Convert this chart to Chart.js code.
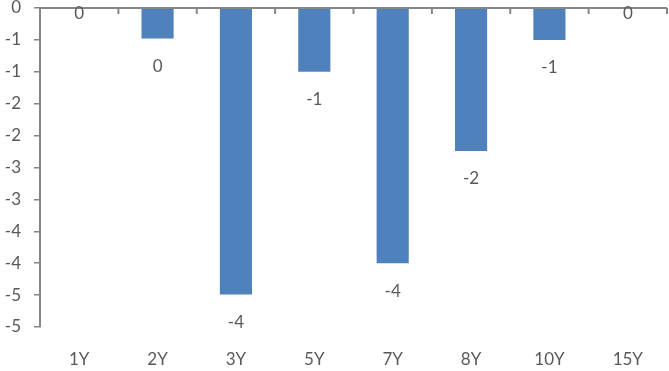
<!DOCTYPE html>
<html>
<head>
<meta charset="utf-8">
<script src="https://cdn.jsdelivr.net/npm/chart.js@4"></script>
<style>
  html, body { margin: 0; padding: 0; background: #ffffff; }
  #wrap { width: 669px; height: 371px; }
</style>
</head>
<body>
<div id="wrap"><canvas id="c" width="669" height="371"></canvas></div>
<script>
// Tenor buckets and their values
const categories = ['1Y', '2Y', '3Y', '5Y', '7Y', '8Y', '10Y', '15Y'];
const values = [0, -0.48, -4.49, -1.0, -4.0, -2.24, -0.5, 0];
const yTicks = [0, -0.5, -1, -1.5, -2, -2.5, -3, -3.5, -4, -4.5, -5];

const FONT = 'Lato, "Open Sans", "Liberation Sans", sans-serif';
const TEXT = '#595959';
const AXIS = '#868686';

// Whole-number format that rounds halves away from zero
function fmt(v) {
  const r = Math.sign(v) * Math.round(Math.abs(v));
  return r === 0 ? '0' : String(r);
}

// Zero baseline with category separators hanging below it
const zeroLine = {
  id: 'zeroLine',
  afterDatasetsDraw(chart) {
    const { ctx, chartArea, scales } = chart;
    const y0 = scales.y.getPixelForValue(0);
    const n = categories.length;
    const step = (chartArea.right - chartArea.left) / n;
    ctx.save();
    ctx.strokeStyle = AXIS;
    ctx.lineWidth = 2;
    ctx.beginPath();
    ctx.moveTo(chartArea.left, y0);
    ctx.lineTo(chartArea.right, y0);
    for (let i = 1; i <= n; i++) {
      const x = chartArea.left + step * i;
      ctx.moveTo(x, y0);
      ctx.lineTo(x, y0 + 6);
    }
    ctx.stroke();
    ctx.restore();
  }
};

// Value labels just beyond each bar's end
const barLabels = {
  id: 'barLabels',
  afterDatasetsDraw(chart) {
    const { ctx, scales } = chart;
    const meta = chart.getDatasetMeta(0);
    const y0 = scales.y.getPixelForValue(0);
    ctx.save();
    ctx.fillStyle = TEXT;
    ctx.font = '17px ' + FONT;
    ctx.textAlign = 'center';
    ctx.textBaseline = 'middle';
    meta.data.forEach((bar, i) => {
      const v = values[i];
      const y = v < 0 ? bar.y + 28 : y0 + 5.5;
      ctx.fillText(fmt(v), bar.x, y);
    });
    ctx.restore();
  }
};

new Chart(document.getElementById('c'), {
  type: 'bar',
  data: {
    labels: categories,
    datasets: [{
      data: values,
      backgroundColor: '#4F81BD',
      borderWidth: 0,
      categoryPercentage: 1,
      barPercentage: 0.41
    }]
  },
  options: {
    responsive: false,
    animation: false,
    layout: { padding: { top: 8, right: 2, left: 0, bottom: 0 } },
    plugins: { legend: { display: false }, tooltip: { enabled: false } },
    scales: {
      x: {
        position: 'bottom',
        grid: { display: false },
        border: { display: false },
        ticks: { color: TEXT, font: { family: FONT, size: 17 }, padding: 14, maxRotation: 0 },
        afterFit(s) { s.height = 44; }
      },
      y: {
        min: -5,
        max: 0,
        afterBuildTicks(s) { s.ticks = yTicks.map(v => ({ value: v })); },
        grid: { drawOnChartArea: false, tickLength: 6, color: AXIS, lineWidth: 1.5 },
        border: { color: AXIS, width: 2 },
        ticks: {
          color: TEXT,
          font: { family: FONT, size: 17 },
          padding: 13,
          callback: (v) => fmt(v)
        },
        afterFit(s) { s.width = 40; s.paddingTop = 0; s.paddingBottom = 0; }
      }
    }
  },
  plugins: [zeroLine, barLabels]
});
</script>
</body>
</html>
